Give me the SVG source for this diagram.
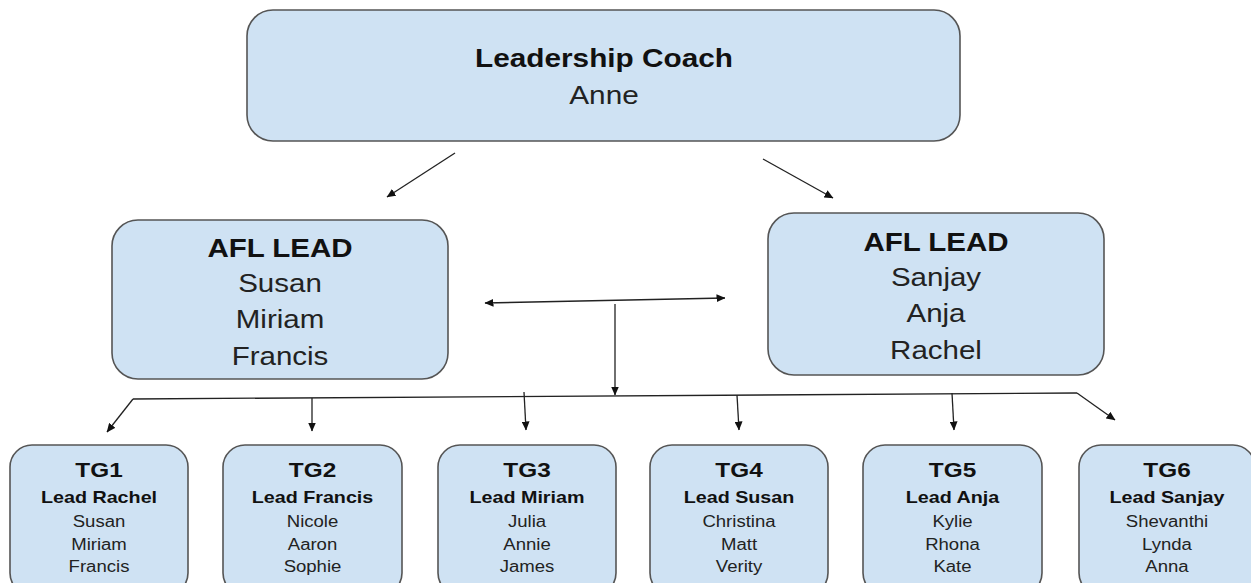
<svg xmlns="http://www.w3.org/2000/svg" width="1251" height="583" viewBox="0 0 1251 583">
<style>
.box{fill:#cfe2f3;stroke:#555;stroke-width:1.6}
.t{font-family:"Liberation Sans",Arial,sans-serif;text-anchor:middle;fill:#222}
.b{font-weight:bold;fill:#111}
.big{font-size:25px}
.tg{font-size:21px}
.ld{font-size:17px}
.nm{font-size:16px}
.c{stroke:#222;stroke-width:1.3;fill:none}
.a{marker-end:url(#ah)}
</style>
<defs>
<marker id="ah" markerUnits="userSpaceOnUse" markerWidth="9" markerHeight="8" refX="8.5" refY="4" orient="auto-start-reverse">
<path d="M0,0 L9,4 L0,8 z" fill="#111"/>
</marker>
</defs>
<rect width="1251" height="583" fill="#fff"/>

<g id="coach">
<rect class="box" x="247" y="10" width="713" height="131" rx="26"/>
<g transform="translate(604 0) scale(1.19 1)">
<text class="t b big" x="0" y="67">Leadership Coach</text>
<text class="t big" x="0" y="104">Anne</text>
</g>
</g>

<g id="afl-left">
<rect class="box" x="112" y="220" width="336" height="159" rx="26"/>
<g transform="translate(280 0) scale(1.18 1)">
<text class="t b big" x="0" y="257">AFL LEAD</text>
<text class="t big" x="0" y="292">Susan</text>
<text class="t big" x="0" y="328">Miriam</text>
<text class="t big" x="0" y="365">Francis</text>
</g>
</g>

<g id="afl-right">
<rect class="box" x="768" y="213" width="336" height="162" rx="26"/>
<g transform="translate(936 0) scale(1.18 1)">
<text class="t b big" x="0" y="251">AFL LEAD</text>
<text class="t big" x="0" y="286">Sanjay</text>
<text class="t big" x="0" y="322">Anja</text>
<text class="t big" x="0" y="359">Rachel</text>
</g>
</g>

<g id="tg1">
<rect class="box" x="10" y="445" width="178" height="150" rx="22"/>
<g transform="translate(99 0) scale(1.16 1)">
<text class="t b tg" x="0" y="477">TG1</text>
<text class="t b ld" x="0" y="503">Lead Rachel</text>
<text class="t nm" x="0" y="527">Susan</text>
<text class="t nm" x="0" y="550">Miriam</text>
<text class="t nm" x="0" y="572">Francis</text>
</g>
</g>

<g id="tg2">
<rect class="box" x="223" y="445" width="179" height="150" rx="22"/>
<g transform="translate(312.5 0) scale(1.16 1)">
<text class="t b tg" x="0" y="477">TG2</text>
<text class="t b ld" x="0" y="503">Lead Francis</text>
<text class="t nm" x="0" y="527">Nicole</text>
<text class="t nm" x="0" y="550">Aaron</text>
<text class="t nm" x="0" y="572">Sophie</text>
</g>
</g>

<g id="tg3">
<rect class="box" x="438" y="445" width="178" height="150" rx="22"/>
<g transform="translate(527 0) scale(1.16 1)">
<text class="t b tg" x="0" y="477">TG3</text>
<text class="t b ld" x="0" y="503">Lead Miriam</text>
<text class="t nm" x="0" y="527">Julia</text>
<text class="t nm" x="0" y="550">Annie</text>
<text class="t nm" x="0" y="572">James</text>
</g>
</g>

<g id="tg4">
<rect class="box" x="650" y="445" width="178" height="150" rx="22"/>
<g transform="translate(739 0) scale(1.16 1)">
<text class="t b tg" x="0" y="477">TG4</text>
<text class="t b ld" x="0" y="503">Lead Susan</text>
<text class="t nm" x="0" y="527">Christina</text>
<text class="t nm" x="0" y="550">Matt</text>
<text class="t nm" x="0" y="572">Verity</text>
</g>
</g>

<g id="tg5">
<rect class="box" x="863" y="445" width="179" height="150" rx="22"/>
<g transform="translate(952.5 0) scale(1.16 1)">
<text class="t b tg" x="0" y="477">TG5</text>
<text class="t b ld" x="0" y="503">Lead Anja</text>
<text class="t nm" x="0" y="527">Kylie</text>
<text class="t nm" x="0" y="550">Rhona</text>
<text class="t nm" x="0" y="572">Kate</text>
</g>
</g>

<g id="tg6">
<rect class="box" x="1079" y="445" width="176" height="150" rx="22"/>
<g transform="translate(1167 0) scale(1.16 1)">
<text class="t b tg" x="0" y="477">TG6</text>
<text class="t b ld" x="0" y="503">Lead Sanjay</text>
<text class="t nm" x="0" y="527">Shevanthi</text>
<text class="t nm" x="0" y="550">Lynda</text>
<text class="t nm" x="0" y="572">Anna</text>
</g>
</g>

<g id="connectors">
<path class="c a" d="M455,153 L387,197"/>
<path class="c a" d="M763,159 L833,198"/>
<path class="c a" d="M485,303 L725,298" marker-start="url(#ah)"/>
<path class="c a" d="M615,304 L615,395"/>
<path class="c" d="M133,399 L1077,393"/>
<path class="c a" d="M133,399 L107,432"/>
<path class="c a" d="M312,398 L312,431"/>
<path class="c a" d="M524,392 L526,430"/>
<path class="c a" d="M737,395 L739,430"/>
<path class="c a" d="M952,393 L954,430"/>
<path class="c a" d="M1077,393 L1115,420"/>
</g>
</svg>
